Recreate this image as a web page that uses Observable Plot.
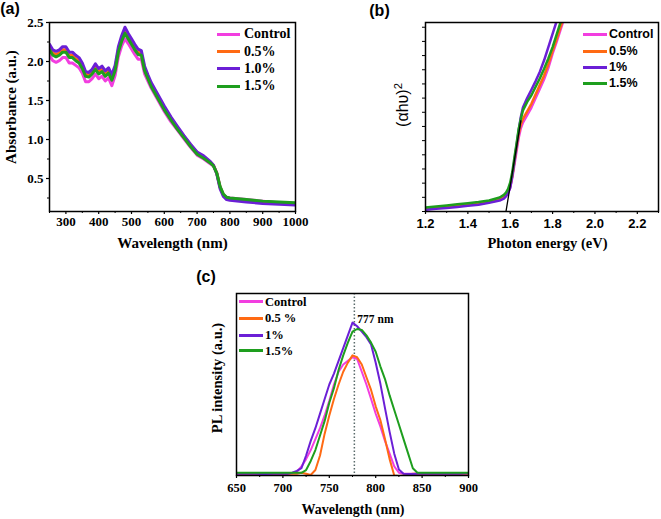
<!DOCTYPE html>
<html>
<head>
<meta charset="utf-8">
<script src="https://cdn.jsdelivr.net/npm/d3@7"></script>
<script src="https://cdn.jsdelivr.net/npm/@observablehq/plot@0.6"></script>
<style>
  html, body { margin: 0; padding: 0; background: #fff; }
  #fig { position: relative; width: 661px; height: 519px; overflow: hidden; background: #fff; }
  #fig > svg, #fig > .p { position: absolute; }
  .t { position: absolute; white-space: nowrap; line-height: 1; color: #000; }
  .lg { position: absolute; height: 3px; }
</style>
</head>
<body>
<div id="fig"></div>
<script>
// ---------- shared ----------
const seriesNames = ["Control", "0.5%", "1.0%", "1.5%"];
const seriesColors = ["#f23ee0", "#ff6a13", "#6b1fd6", "#1e9e1e"];

// ---------- panel (a): absorbance ----------
const wlA = [250,260,270,280,290,300,310,320,330,340,350,360,370,380,390,400,410,420,430,440,450,460,470,480,490,500,510,520,530,540,550,560,580,600,620,640,660,680,700,720,740,750,760,770,780,790,800,850,900,950,1000];
const absControl = [2.08,2.01,1.99,2.01,2.05,2.05,1.98,1.98,1.95,1.92,1.85,1.74,1.74,1.78,1.84,1.78,1.81,1.75,1.79,1.69,1.82,2.06,2.20,2.29,2.23,2.16,2.09,2.03,2.03,1.84,1.75,1.66,1.51,1.36,1.23,1.12,1.01,0.90,0.80,0.75,0.69,0.66,0.57,0.39,0.29,0.26,0.25,0.23,0.21,0.19,0.18];
const abs05 = [2.18,2.11,2.09,2.11,2.15,2.15,2.08,2.08,2.04,2.01,1.94,1.84,1.83,1.87,1.93,1.87,1.90,1.84,1.88,1.79,1.91,2.15,2.29,2.38,2.31,2.25,2.18,2.12,2.10,1.90,1.80,1.70,1.55,1.40,1.27,1.15,1.04,0.93,0.83,0.77,0.71,0.67,0.57,0.39,0.29,0.25,0.24,0.22,0.20,0.19,0.18];
const abs10 = [2.22,2.15,2.13,2.15,2.19,2.19,2.12,2.12,2.08,2.05,1.98,1.87,1.86,1.90,1.97,1.91,1.94,1.88,1.92,1.83,1.95,2.19,2.33,2.44,2.36,2.29,2.22,2.16,2.14,1.94,1.83,1.73,1.58,1.43,1.29,1.17,1.05,0.94,0.84,0.79,0.72,0.67,0.56,0.37,0.27,0.23,0.22,0.20,0.18,0.17,0.16];
const abs15 = [2.15,2.08,2.06,2.08,2.12,2.12,2.05,2.05,2.01,1.98,1.91,1.81,1.80,1.84,1.90,1.84,1.87,1.81,1.85,1.76,1.88,2.12,2.26,2.36,2.29,2.22,2.15,2.09,2.08,1.88,1.78,1.68,1.53,1.38,1.25,1.13,1.02,0.91,0.81,0.76,0.70,0.66,0.57,0.40,0.30,0.26,0.25,0.23,0.21,0.20,0.19];
const xTicksA = [300,400,500,600,700,800,900,1000];
const xMinorA = [250,350,450,550,650,750,850,950];
const yTicksA = [0.5,1.0,1.5,2.0,2.5];
const yMinorA = [0.25,0.75,1.25,1.75,2.25];
const legendA = ["Control", "0.5%", "1.0%", "1.5%"];

// ---------- panel (b): Tauc plot ----------
const eB = [1.20,1.25,1.30,1.35,1.40,1.45,1.50,1.55,1.57,1.58,1.59,1.60,1.61,1.62,1.63,1.64,1.65,1.66,1.68,1.70,1.72,1.74,1.76,1.78,1.80,1.82,1.84,1.86];
const taucControl = [1.6,2.0,2.5,3.0,3.5,4.0,5.0,6.5,7.7,8.5,10,12.7,18,25,32,39,44,47,51,55,60,65,70,76,83.5,90,97,104];
const tauc05 = [1.4,1.9,2.4,2.9,3.4,4.0,5.0,6.6,7.9,9,10.8,13.5,19,26.5,34,41,46,49,53,57,62,67,72,78,85,91.5,98.5,105];
const tauc10 = [0.9,1.4,1.9,2.4,3.0,3.6,4.6,5.8,6.8,8,9.8,12.5,19,27,35,43,50,55,60,64.4,69,74,80,87,94,101,108,115];
const tauc15 = [2.1,2.7,3.2,3.8,4.4,5.0,5.8,7.4,8.8,10,12,15.4,21,28.7,36,43.7,49,53.5,58,61.5,66,70.5,75.5,81,87,94,101,108];
const fitE = [1.58, 1.65];
const fitV = [0, 48];
const xTicksB = [1.2,1.4,1.6,1.8,2.0,2.2];
const xMinorB = [1.3,1.5,1.7,1.9,2.1,2.3];
const yMinorB = [0,7.5,15,22.5,30,37.5,45,52.5,60,67.5,75,82.5,90,97.5];
const legendB = ["Control", "0.5%", "1%", "1.5%"];

// ---------- panel (c): PL ----------
const wlC = [650,660,670,680,690,700,705,710,715,720,725,730,735,740,745,750,755,760,765,770,775,780,785,790,795,800,805,810,815,820,825,830,835,840,845,850,860,870,880,890,900];
const plControl = [1,1,1,1,1,1,1,1.2,2,5,9,14,20,26,33,41,50,57,61,63,65,64,57,50,42,34,27,19,12,5,1.5,1,1,1,1,1,1,1,1,1,1];
const pl05 = [1,1,1,1,1,1,1,1,1,1.5,1,0.3,3,11,23,33,42,50,57,62,66,65,61,54,47,38,30.5,20,9,0,-0.3,0,0.5,1,1,1,1,1,1,1,1];
const pl10 = [1,1,1,0.8,1,1,1,1.5,2.5,4,11,19,26,34,42,50,56,63,70,77,84,82,79,76,72,62,50.5,37,24,12,3.3,1,0.8,0.8,1,1,1,1,1,1,1.2];
const pl15 = [1.5,1.5,1.5,1.5,1.5,1.5,1.5,1.5,1.5,1.5,3,8,14,22,30,40,48,58,66,73,79,80.5,80,77,73,68,60,53,44,36,28,20,12,4,1.5,1.5,1.5,1.5,1.5,1.5,1.5];
const peakWl = [777];
const peakLabel = ["777 nm"];
const xTicksC = [650,700,750,800,850,900];
const xMinorC = [675,725,775,825,875];
const legendC = ["Control", "0.5 %", "1%", "1.5%"];

// ---------- helpers ----------
const fig = document.getElementById("fig");
function table(xs, ys) { return xs.map((x, i) => ({x, y: ys[i]})); }
function place(svg, left, top) { svg.style.left = left + "px"; svg.style.top = top + "px"; fig.appendChild(svg); }
function label(html, cx, cy, font, rotate) {
  const d = document.createElement("div");
  d.className = "t";
  d.innerHTML = html;
  d.style.left = cx + "px"; d.style.top = cy + "px";
  d.style.font = font;
  d.style.transform = "translate(-50%,-50%)" + (rotate ? " rotate(" + rotate + "deg)" : "");
  fig.appendChild(d);
}
function legend(names, colors, x1, x2, tx, rows, font) {
  names.forEach((n, i) => {
    const l = document.createElement("div");
    l.className = "lg";
    l.style.left = x1 + "px"; l.style.width = (x2 - x1) + "px";
    l.style.top = (rows[i] - 1.5) + "px"; l.style.background = colors[i];
    fig.appendChild(l);
    const t = document.createElement("div");
    t.className = "t";
    t.textContent = n;
    t.style.left = tx + "px"; t.style.top = rows[i] + "px";
    t.style.font = font;
    t.style.transform = "translateY(-50%)";
    fig.appendChild(t);
  });
}
const SERIF = "'Liberation Serif', 'Times New Roman', serif";
const SANS = "'Liberation Sans', Arial, sans-serif";

// ---------- draw (a) ----------
const seriesA = [absControl, abs05, abs10, abs15];
const plotA = Plot.plot({
  width: 330, height: 260,
  marginLeft: 49, marginRight: 35, marginTop: 22, marginBottom: 49,
  x: {domain: [250, 1000]},
  y: {domain: [0.077, 2.5]},
  style: {fontFamily: SERIF, fontWeight: "bold", fontSize: "13px", color: "black", background: "transparent"},
  marks: [
    ...seriesA.map((s, i) => Plot.line(table(wlA, s), {x: "x", y: "y", stroke: seriesColors[i], strokeWidth: 3, clip: true})),
    Plot.frame({stroke: "black", strokeWidth: 1.5}),
    Plot.axisX({ticks: xTicksA, tickSize: 3, tickPadding: 2, tickFormat: d => String(d), label: null, strokeWidth: 1.2}),
    Plot.axisX({ticks: xMinorA, tickSize: 2, text: null, label: null, strokeWidth: 1}),
    Plot.axisY({ticks: yTicksA, tickSize: 3, tickPadding: 3, tickFormat: d3.format(".1f"), label: null, strokeWidth: 1.2}),
    Plot.axisY({ticks: yMinorA, tickSize: 2, text: null, label: null, strokeWidth: 1})
  ]
});
place(plotA, 0, 0);

// ---------- draw (b) ----------
const seriesB = [taucControl, tauc05, tauc10, tauc15];
const plotB = Plot.plot({
  width: 331, height: 260,
  marginLeft: 95, marginRight: 3, marginTop: 22, marginBottom: 49,
  x: {domain: [1.2, 2.3]},
  y: {domain: [0, 100]},
  style: {fontFamily: SANS, fontWeight: "bold", fontSize: "13px", color: "black", background: "transparent"},
  marks: [
    ...seriesB.map((s, i) => Plot.line(table(eB, s), {x: "x", y: "y", stroke: seriesColors[i], strokeWidth: 2.5, clip: true})),
    Plot.line(table(fitE, fitV), {x: "x", y: "y", stroke: "black", strokeWidth: 1.3, clip: true}),
    Plot.frame({stroke: "black", strokeWidth: 1.5}),
    Plot.axisX({ticks: xTicksB, tickSize: 3, tickPadding: 4, tickFormat: d3.format(".1f"), label: null, strokeWidth: 1.2}),
    Plot.axisX({ticks: xMinorB, tickSize: 2, text: null, label: null, strokeWidth: 1}),
    Plot.axisY({ticks: yMinorB, tickSize: 3, text: null, label: null, strokeWidth: 1})
  ]
});
place(plotB, 330, 0);

// ---------- draw (c) ----------
const seriesC = [plControl, pl05, pl10, pl15];
const plotC = Plot.plot({
  width: 330, height: 259,
  marginLeft: 56, marginRight: 42, marginTop: 33, marginBottom: 44,
  x: {domain: [650, 900]},
  y: {domain: [0, 100], axis: null},
  style: {fontFamily: SERIF, fontWeight: "bold", fontSize: "12.5px", color: "black", background: "transparent"},
  marks: [
    Plot.ruleX(peakWl, {stroke: "#5a6a6a", strokeWidth: 1.5, strokeDasharray: "1.5,2"}),
    ...seriesC.map((s, i) => Plot.line(table(wlC, s), {x: "x", y: "y", stroke: seriesColors[i], strokeWidth: 2, clip: true})),
    Plot.text(peakLabel, {x: peakWl, text: d => d, frameAnchor: "top", dx: 3, dy: 21, textAnchor: "start", fontSize: 11.5, fontFamily: SERIF, fontWeight: "bold"}),
    Plot.frame({stroke: "black", strokeWidth: 1.5}),
    Plot.axisX({ticks: xTicksC, tickSize: 3, tickPadding: 5, tickFormat: d => String(d), label: null, strokeWidth: 1.2}),
    Plot.axisX({ticks: xMinorC, tickSize: 2, text: null, label: null, strokeWidth: 1})
  ]
});
place(plotC, 180, 260);

// ---------- text labels ----------
label("(a)", 10, 9, "bold 16px " + SANS);
label("(b)", 379.5, 11, "bold 16px " + SANS);
label("(c)", 206, 277, "bold 16px " + SANS);

label("Wavelength (nm)", 172.5, 243, "bold 15px " + SERIF);
label("Absorbance (a.u.)", 10.5, 107, "bold 15px " + SERIF, -90);
label("Photon energy (eV)", 547.5, 243, "bold 14.5px " + SERIF);
label("(αhυ)<sup style='font-size:0.7em;vertical-align:0.55em'>2</sup>", 402, 105, "16px " + SANS, -90);
label("Wavelength (nm)", 353, 510, "bold 14px " + SERIF);
label("PL intensity (a.u.)", 217, 378, "bold 14.5px " + SERIF, -90);

legend(legendA, seriesColors, 217, 240, 244, [34.3, 51.6, 68.9, 86.2], "bold 14px " + SERIF);
legend(legendB, seriesColors, 583, 607, 609, [34.3, 51, 67, 83], "bold 12.5px " + SANS);
legend(legendC, seriesColors, 239, 263, 265, [301.7, 318.3, 335, 350.7], "bold 12.5px " + SERIF);
</script>
</body>
</html>
